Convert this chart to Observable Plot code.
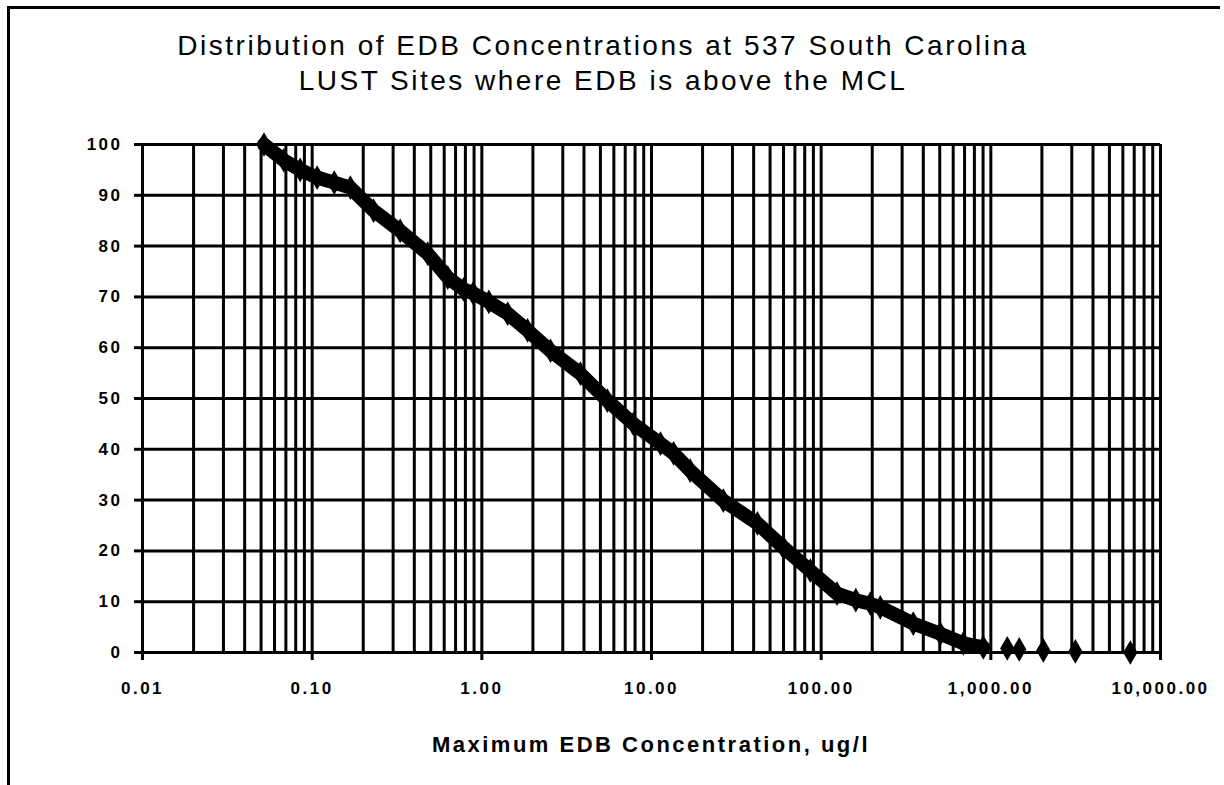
<!DOCTYPE html>
<html><head><meta charset="utf-8">
<script src="https://cdn.jsdelivr.net/npm/d3@7"></script>
<script src="https://cdn.jsdelivr.net/npm/@observablehq/plot@0.6"></script>
<style>
body{margin:0;background:#fff;font-family:"Liberation Sans",Arial,sans-serif;}
#wrap{position:relative;width:1224px;height:785px;overflow:hidden;background:#fff;}
#frame{position:absolute;left:7px;top:6px;width:1210px;height:800px;border-top:3px solid #000;border-left:3px solid #000;pointer-events:none;}
#title{height:110px;box-sizing:border-box;padding-top:28px;padding-right:18px;text-align:center;font-size:28px;line-height:35px;letter-spacing:2.5px;color:#000;}
#xlabel{height:70px;box-sizing:border-box;padding-top:17px;padding-left:78px;text-align:center;font-size:22px;font-weight:bold;letter-spacing:2.5px;}
#chart svg text{font-weight:bold;letter-spacing:2.5px;}
</style>
</head><body>
<div id="wrap">
<div id="frame"></div>
<div id="title">Distribution of EDB Concentrations at 537 South Carolina<br>LUST Sites where EDB is above the MCL</div>
<div id="chart"></div>
<div id="xlabel">Maximum EDB Concentration, ug/l</div>
</div>
<script>
// Concentration (ug/l)
const concentration = [0.052, 0.068, 0.085, 0.107, 0.135, 0.168, 0.23, 0.33, 0.48, 0.63, 0.78, 0.89, 1.1, 1.42, 1.86, 2.54, 3.81, 5.49, 7.82, 11.3, 13.5, 16.9, 26.5, 42.1, 59.8, 86.3, 124, 160, 195, 223, 349, 504, 689, 903, 1250, 1470, 2040, 3150, 6640];
// Percent of sites at or above that concentration
const percentSites = [100, 96.9, 95, 93.5, 92.5, 91.5, 87, 83, 78.5, 73.8, 71.5, 70.7, 69, 66.7, 63.4, 59.4, 54.9, 49.6, 45, 41.1, 39.2, 35.8, 29.9, 25.4, 20.7, 16.1, 11.6, 10.3, 9.6, 8.9, 5.7, 3.7, 1.8, 1.0, 0.8, 0.6, 0.4, 0.2, 0];

const xTicks = [0.01, 0.1, 1, 10, 100, 1000, 10000];
const xTickLabels = ["0.01", "0.10", "1.00", "10.00", "100.00", "1,000.00", "10,000.00"];
const yTicks = [0, 10, 20, 30, 40, 50, 60, 70, 80, 90, 100];

const data = concentration.map((c, i) => ({c, p: percentSites[i]}));
const dense = data.filter(d => d.c <= 1000);
const minorGrid = [];
for (const dec of xTicks.slice(0, -1)) for (let k = 1; k <= 9; k++) minorGrid.push(dec * k);
minorGrid.push(10000);

const chart = Plot.plot({
  width: 1224,
  height: 605,
  marginTop: 34,
  marginBottom: 63,
  marginLeft: 142,
  marginRight: 64,
  style: {fontFamily: '"Liberation Sans", Arial, sans-serif', fontSize: "17px", color: "#000", background: "#fff"},
  x: {type: "log", domain: [0.01, 10000]},
  y: {domain: [0, 100]},
  marks: [
    Plot.ruleX(minorGrid, {x: d => d, stroke: "#000", strokeWidth: 3}),
    Plot.ruleY(yTicks, {y: d => d, stroke: "#000", strokeWidth: 3}),
    Plot.axisX({ticks: xTicks, tickSize: 8, tickPadding: 21, strokeWidth: 3, strokeOpacity: 1,
      tickFormat: d => xTickLabels[xTicks.indexOf(d)], label: null, fontSize: 17}),
    Plot.axisY({ticks: yTicks, tickSize: 8, tickPadding: 12, strokeWidth: 3, strokeOpacity: 1,
      label: null, fontSize: 17}),
    Plot.line(dense, {x: "c", y: "p", stroke: "#000", strokeWidth: 14, strokeLinejoin: "round", strokeLinecap: "round"}),
    Plot.dot(data, {x: "c", y: "p", symbol: "diamond", r: 7.5, fill: "#000", stroke: "none"})
  ]
});
document.getElementById("chart").appendChild(chart);
</script>
</body></html>
